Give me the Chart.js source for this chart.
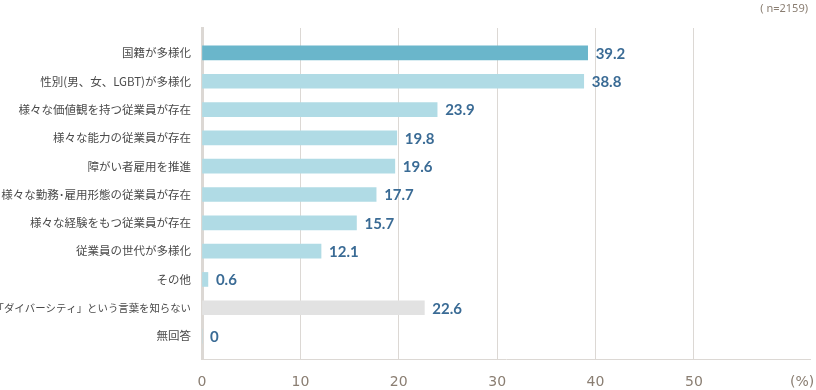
<!DOCTYPE html>
<html>
<head>
<meta charset="utf-8">
<script src="https://cdn.jsdelivr.net/npm/chart.js@4"></script>
<style>
html,body{margin:0;padding:0;background:#fff;}
canvas{display:block;}
</style>
</head>
<body>
<canvas id="c" width="816" height="390"></canvas>
<script>
const categories = [
  "国籍が多様化",
  "性別(男、女、LGBT)が多様化",
  "様々な価値観を持つ従業員が存在",
  "様々な能力の従業員が存在",
  "障がい者雇用を推進",
  "様々な勤務･雇用形態の従業員が存在",
  "様々な経験をもつ従業員が存在",
  "従業員の世代が多様化",
  "その他",
  "「ダイバーシティ」という言葉を知らない",
  "無回答"
];
const values = [39.2, 38.8, 23.9, 19.8, 19.6, 17.7, 15.7, 12.1, 0.6, 22.6, 0];
const xTickValues = [0, 10, 20, 30, 40, 50, 61];
const xTickLabels = ["0", "10", "20", "30", "40", "50", "(%)"];
const sampleNote = "( n=2159)";

const barColors = values.map((v, i) => i === 0 ? "#6ab6cb" : (i === 9 ? "#e2e2e2" : "#b0dbe5"));

const valueLabels = {
  id: "valueLabels",
  afterDatasetsDraw(chart) {
    const ctx = chart.ctx;
    const meta = chart.getDatasetMeta(0);
    ctx.save();
    ctx.font = "bold 15px Lato";
    ctx.fillStyle = "#3a6b95";
    ctx.textAlign = "left";
    ctx.textBaseline = "middle";
    meta.data.forEach((bar, i) => {
      ctx.fillText(String(values[i]), bar.x + 8, bar.y + 1);
    });
    ctx.restore();
  },
  afterDraw(chart) {
    const ctx = chart.ctx;
    ctx.save();
    ctx.font = "11px 'Noto Sans'";
    ctx.fillStyle = "#8a7e72";
    ctx.textAlign = "right";
    ctx.textBaseline = "middle";
    ctx.fillText(sampleNote, 808, 9);
    ctx.restore();
  }
};

new Chart(document.getElementById("c"), {
  type: "bar",
  data: {
    datasets: [{
      data: values.map((v, i) => ({ x: v, y: i })),
      backgroundColor: barColors,
      borderWidth: 0,
      barThickness: 14
    }]
  },
  options: {
    indexAxis: "y",
    responsive: false,
    animation: false,
    layout: { padding: { top: 28, right: 6, left: 0, bottom: 0 } },
    plugins: { legend: { display: false }, tooltip: { enabled: false } },
    scales: {
      y: {
        type: "linear",
        reverse: true,
        offset: false,
        min: -0.88,
        max: 10.81,
        afterBuildTicks(scale) { scale.ticks = categories.map((_, i) => ({ value: i })); },
        afterFit(scale) { scale.width = 202; scale.paddingTop = 0; scale.paddingBottom = 0; },
        grid: { display: false, drawTicks: false, offset: false },
        border: { display: true, width: 3, color: "#dcd8d4" },
        ticks: {
          autoSkip: false,
          padding: 11,
          color: "#4a4a4a",
          font: (ctx) => ({ family: "'Noto Sans CJK JP'", size: (ctx.index === 9 ? 10.4 : 11.5) }),
          callback: (v) => categories[v]
        }
      },
      x: {
        type: "linear",
        min: 0,
        max: 61.8,
        afterBuildTicks(scale) { scale.ticks = xTickValues.map(v => ({ value: v })); },
        afterFit(scale) { scale.height = 31; scale.paddingLeft = 0; scale.paddingRight = 0; },
        grid: {
          drawTicks: false,
          color: (ctx) => (ctx.tick && (ctx.tick.value === 0 || ctx.tick.value === 61)) ? "rgba(0,0,0,0)" : "#dcd8d4",
          lineWidth: 1
        },
        border: { display: true, color: "#dcd8d4", width: 1 },
        ticks: {
          autoSkip: false,
          maxRotation: 0,
          padding: 15,
          color: "#8a7e72",
          font: { family: "'DejaVu Sans'", size: 14 },
          callback: (v) => xTickLabels[xTickValues.indexOf(v)]
        }
      }
    }
  },
  plugins: [valueLabels]
});
</script>
</body>
</html>
